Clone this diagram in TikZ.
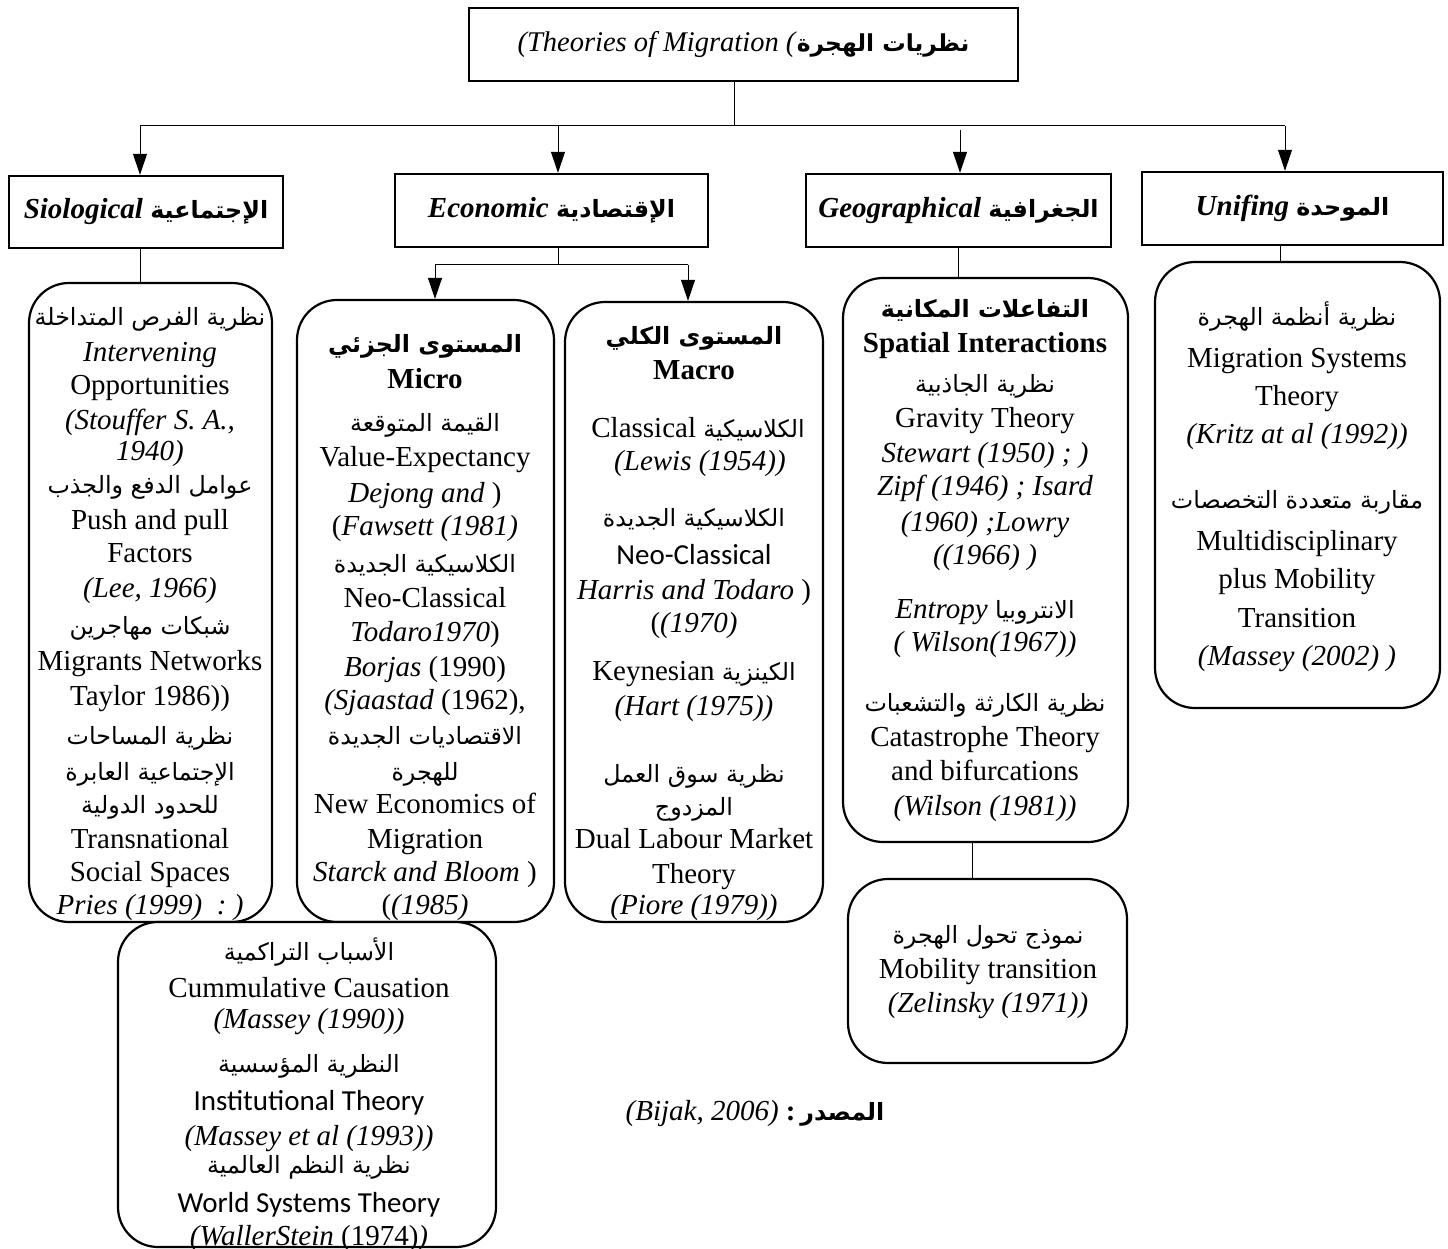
\documentclass[tikz,border=0pt]{standalone}
\usepackage{fontspec}
\usetikzlibrary{arrows.meta}
\setmainfont{Liberation Serif}
\newfontfamily\arfont[Script=Arabic,Scale=0.82]{DejaVu Sans}
\newfontfamily\carl{Carlito}
\TeXXeTstate=1
\newcommand\AR[1]{{\arfont\upshape\beginR #1\endR}}
\newcommand\fsz{\fontsize{29}{35}\selectfont}
\tikzset{
  hdr/.style={draw, line width=2.4pt, rectangle, inner sep=0pt, font=\fsz\bfseries\itshape},
  topbox/.style={draw, line width=2.4pt, rectangle, inner sep=0pt, font=\fontsize{28.5}{34}\selectfont},
  rbox/.style={draw, line width=2.2pt, rounded corners=40pt, rectangle, inner sep=0pt},
  txt/.style={inner sep=0pt, anchor=base, font=\fsz},
  conn/.style={line width=1pt},
  arr/.style={line width=1pt, -{Triangle[length=21pt,width=14pt]}}
}
\begin{document}
\begin{tikzpicture}[x=1pt,y=-1pt]
\useasboundingbox (0,0) rectangle (1448,1249);
% header boxes
\node[topbox, minimum width=549, minimum height=73] (top) at (743.5,44.5)
  {\textit{(Theories of Migration (}\AR{\bfseries نظريات الهجرة}};
\node[hdr, minimum width=274, minimum height=72] (soc) at (146,212) {Siological \AR{\bfseries الإجتماعية}};
\node[hdr, minimum width=313, minimum height=73] (eco) at (551.5,210.5) {Economic \AR{\bfseries الإقتصادية}};
\node[hdr, minimum width=305, minimum height=73] (geo) at (958.5,210.5) {Geographical \AR{\bfseries الجغرافية}};
\node[hdr, minimum width=301, minimum height=73] (uni) at (1292.5,208.5) {Unifing \AR{\bfseries الموحدة}};
% rounded boxes
\node[rbox, minimum width=243, minimum height=639] (sbox) at (150.5,602.5) {};
\node[rbox, minimum width=257, minimum height=622] (micro) at (425.5,611) {};
\node[rbox, minimum width=258, minimum height=620] (macro) at (694,612) {};
\node[rbox, minimum width=285, minimum height=564] (spat) at (985.5,560) {};
\node[rbox, minimum width=285, minimum height=446] (ubox) at (1297.5,485) {};
\node[rbox, minimum width=378, minimum height=325, fill=white] (cum) at (307,1084.5) {};
\node[rbox, minimum width=279, minimum height=184] (mob) at (987.5,971) {};
% connectors
\coordinate (j0) at (734,126);
\coordinate (a1) at (140,126);
\coordinate (a2) at (558,126);
\coordinate (a3) at (960,130);
\coordinate (a4) at (1285,126);
\draw[conn] (top.south -| j0) -- (j0);
\draw[conn] (a1) -- (a4);
\draw[arr] (a1) -- (a1 |- soc.north);
\draw[arr] (a2) -- (a2 |- eco.north);
\draw[arr] (a3) -- (a3 |- geo.north);
\draw[arr] (a4) -- (a4 |- uni.north);
\draw[conn] (a1 |- soc.south) -- (a1 |- sbox.north);
\coordinate (e0) at (558,265);
\coordinate (eL) at (435,265);
\coordinate (eR) at (688,265);
\draw[conn] (e0 |- eco.south) -- (e0);
\draw[conn] (eL) -- (eR);
\draw[arr] (eL) -- (eL |- micro.north);
\draw[arr] (eR) -- (eR |- macro.north);
\coordinate (g0) at (958,0);
\draw[conn] (g0 |- geo.south) -- (g0 |- spat.north);
\coordinate (u0) at (1280,0);
\draw[conn] (u0 |- uni.south) -- (u0 |- ubox.north);
\coordinate (m0) at (972,0);
\draw[conn] (m0 |- spat.south) -- (m0 |- mob.north);
% Siological texts
\node[txt] at (150,325) {\AR{نظرية الفرص المتداخلة}};
\node[txt] at (150,361) {\textit{Intervening}};
\node[txt] at (150,394) {Opportunities};
\node[txt] at (150,429) {\textit{(Stouffer S. A.,}};
\node[txt] at (150,460) {\textit{1940)}};
\node[txt] at (150,493) {\AR{عوامل الدفع والجذب}};
\node[txt] at (150,529) {Push and pull};
\node[txt] at (150,562) {Factors};
\node[txt] at (150,597) {\textit{(Lee, 1966)}};
\node[txt] at (150,634) {\AR{شبكات مهاجرين}};
\node[txt] at (150,670) {Migrants Networks};
\node[txt] at (150,705) {Taylor 1986))};
\node[txt] at (150,744) {\AR{نظرية المساحات}};
\node[txt] at (150,780) {\AR{الإجتماعية العابرة}};
\node[txt] at (150,813) {\AR{للحدود الدولية}};
\node[txt] at (150,848) {Transnational};
\node[txt] at (150,881) {Social Spaces};
\node[txt] at (150,914) {\textit{Pries (1999)\ \ :\ )}};
% Micro texts
\node[txt] at (425,352) {\AR{\bfseries المستوى الجزئي}};
\node[txt] at (425,388) {\textbf{Micro}};
\node[txt] at (425,431) {\AR{القيمة المتوقعة}};
\node[txt] at (425,466) {Value-Expectancy};
\node[txt] at (425,502) {\textit{Dejong and} )};
\node[txt] at (425,535) {(\textit{Fawsett (1981)}};
\node[txt] at (425,572) {\AR{الكلاسيكية الجديدة}};
\node[txt] at (425,607) {Neo-Classical};
\node[txt] at (425,641) {\textit{Todaro1970})};
\node[txt] at (425,676) {\textit{Borjas} (1990)};
\node[txt] at (425,709) {\textit{(Sjaastad} (1962),};
\node[txt] at (425,744) {\AR{الاقتصاديات الجديدة}};
\node[txt] at (425,780) {\AR{للهجرة}};
\node[txt] at (425,813) {New Economics of};
\node[txt] at (425,848) {Migration};
\node[txt] at (425,881) {\textit{Starck and Bloom} )};
\node[txt] at (425,914) {(\textit{(1985)}};
% Macro texts
\node[txt] at (694,344) {\AR{\bfseries المستوى الكلي}};
\node[txt] at (694,379) {\textbf{Macro}};
\node[txt] at (698,437) {Classical \AR{الكلاسيكية}};
\node[txt] at (700,470) {\textit{(Lewis (1954))}};
\node[txt] at (694,526) {\AR{الكلاسيكية الجديدة}};
\node[txt] at (694,564) {\carl Neo-Classical};
\node[txt] at (694,599) {\textit{Harris and Todaro} )};
\node[txt] at (694,632) {(\textit{(1970)}};
\node[txt] at (694,680) {Keynesian \AR{الكينزية}};
\node[txt] at (694,715) {\textit{(Hart (1975))}};
\node[txt] at (694,782) {\AR{نظرية سوق العمل}};
\node[txt] at (694,815) {\AR{المزدوج}};
\node[txt] at (694,848) {Dual Labour Market};
\node[txt] at (694,883) {Theory};
\node[txt] at (694,914) {\textit{(Piore (1979))}};
% Spatial texts
\node[txt] at (985,317) {\AR{\bfseries التفاعلات المكانية}};
\node[txt] at (985,352) {\textbf{Spatial Interactions}};
\node[txt] at (985,392) {\AR{نظرية الجاذبية}};
\node[txt] at (985,427) {Gravity Theory};
\node[txt] at (985,462) {\textit{Stewart (1950) ; )}};
\node[txt] at (985,495) {\textit{Zipf (1946) ; Isard}};
\node[txt] at (985,531) {\textit{(1960) ;Lowry}};
\node[txt] at (985,564) {\textit{((1966) )}};
\node[txt] at (985,618) {\textit{Entropy} \AR{الانتروبيا}};
\node[txt] at (985,651) {\textit{( Wilson(1967))}};
\node[txt] at (985,711) {\AR{نظرية الكارثة والتشعبات}};
\node[txt] at (985,746) {Catastrophe Theory};
\node[txt] at (985,780) {and bifurcations};
\node[txt] at (985,815) {\textit{(Wilson (1981))}};
% Unifing texts
\node[txt] at (1297,325) {\AR{نظرية أنظمة الهجرة}};
\node[txt] at (1297,367) {Migration Systems};
\node[txt] at (1297,405) {Theory};
\node[txt] at (1297,443) {\textit{(Kritz at al (1992))}};
\node[txt] at (1297,508) {\AR{مقاربة متعددة التخصصات}};
\node[txt] at (1297,550) {Multidisciplinary};
\node[txt] at (1297,588) {plus Mobility};
\node[txt] at (1297,627) {Transition};
\node[txt] at (1297,665) {\textit{(Massey (2002) )}};
% Cumulative texts
\node[txt] at (309,960) {\AR{الأسباب التراكمية}};
\node[txt] at (309,997) {Cummulative Causation};
\node[txt] at (309,1028) {\textit{(Massey (1990))}};
\node[txt] at (309,1072) {\AR{النظرية المؤسسية}};
\node[txt] at (309,1110) {\carl Institutional Theory};
\node[txt] at (309,1145) {\textit{(Massey et al (1993))}};
\node[txt] at (309,1173) {\AR{نظرية النظم العالمية}};
\node[txt] at (309,1212) {\carl World Systems Theory};
\node[txt] at (309,1245) {\textit{(WallerStein} (1974)\textit{)}};
% Mobility texts
\node[txt] at (988,943) {\AR{نموذج تحول الهجرة}};
\node[txt] at (988,978) {Mobility transition};
\node[txt] at (988,1012) {\textit{(Zelinsky (1971))}};
% source
\node[txt] (src) at (755,1120) {\textit{(Bijak, 2006)}\ \textbf{:}\,\AR{\bfseries المصدر}};
\end{tikzpicture}
\end{document}
